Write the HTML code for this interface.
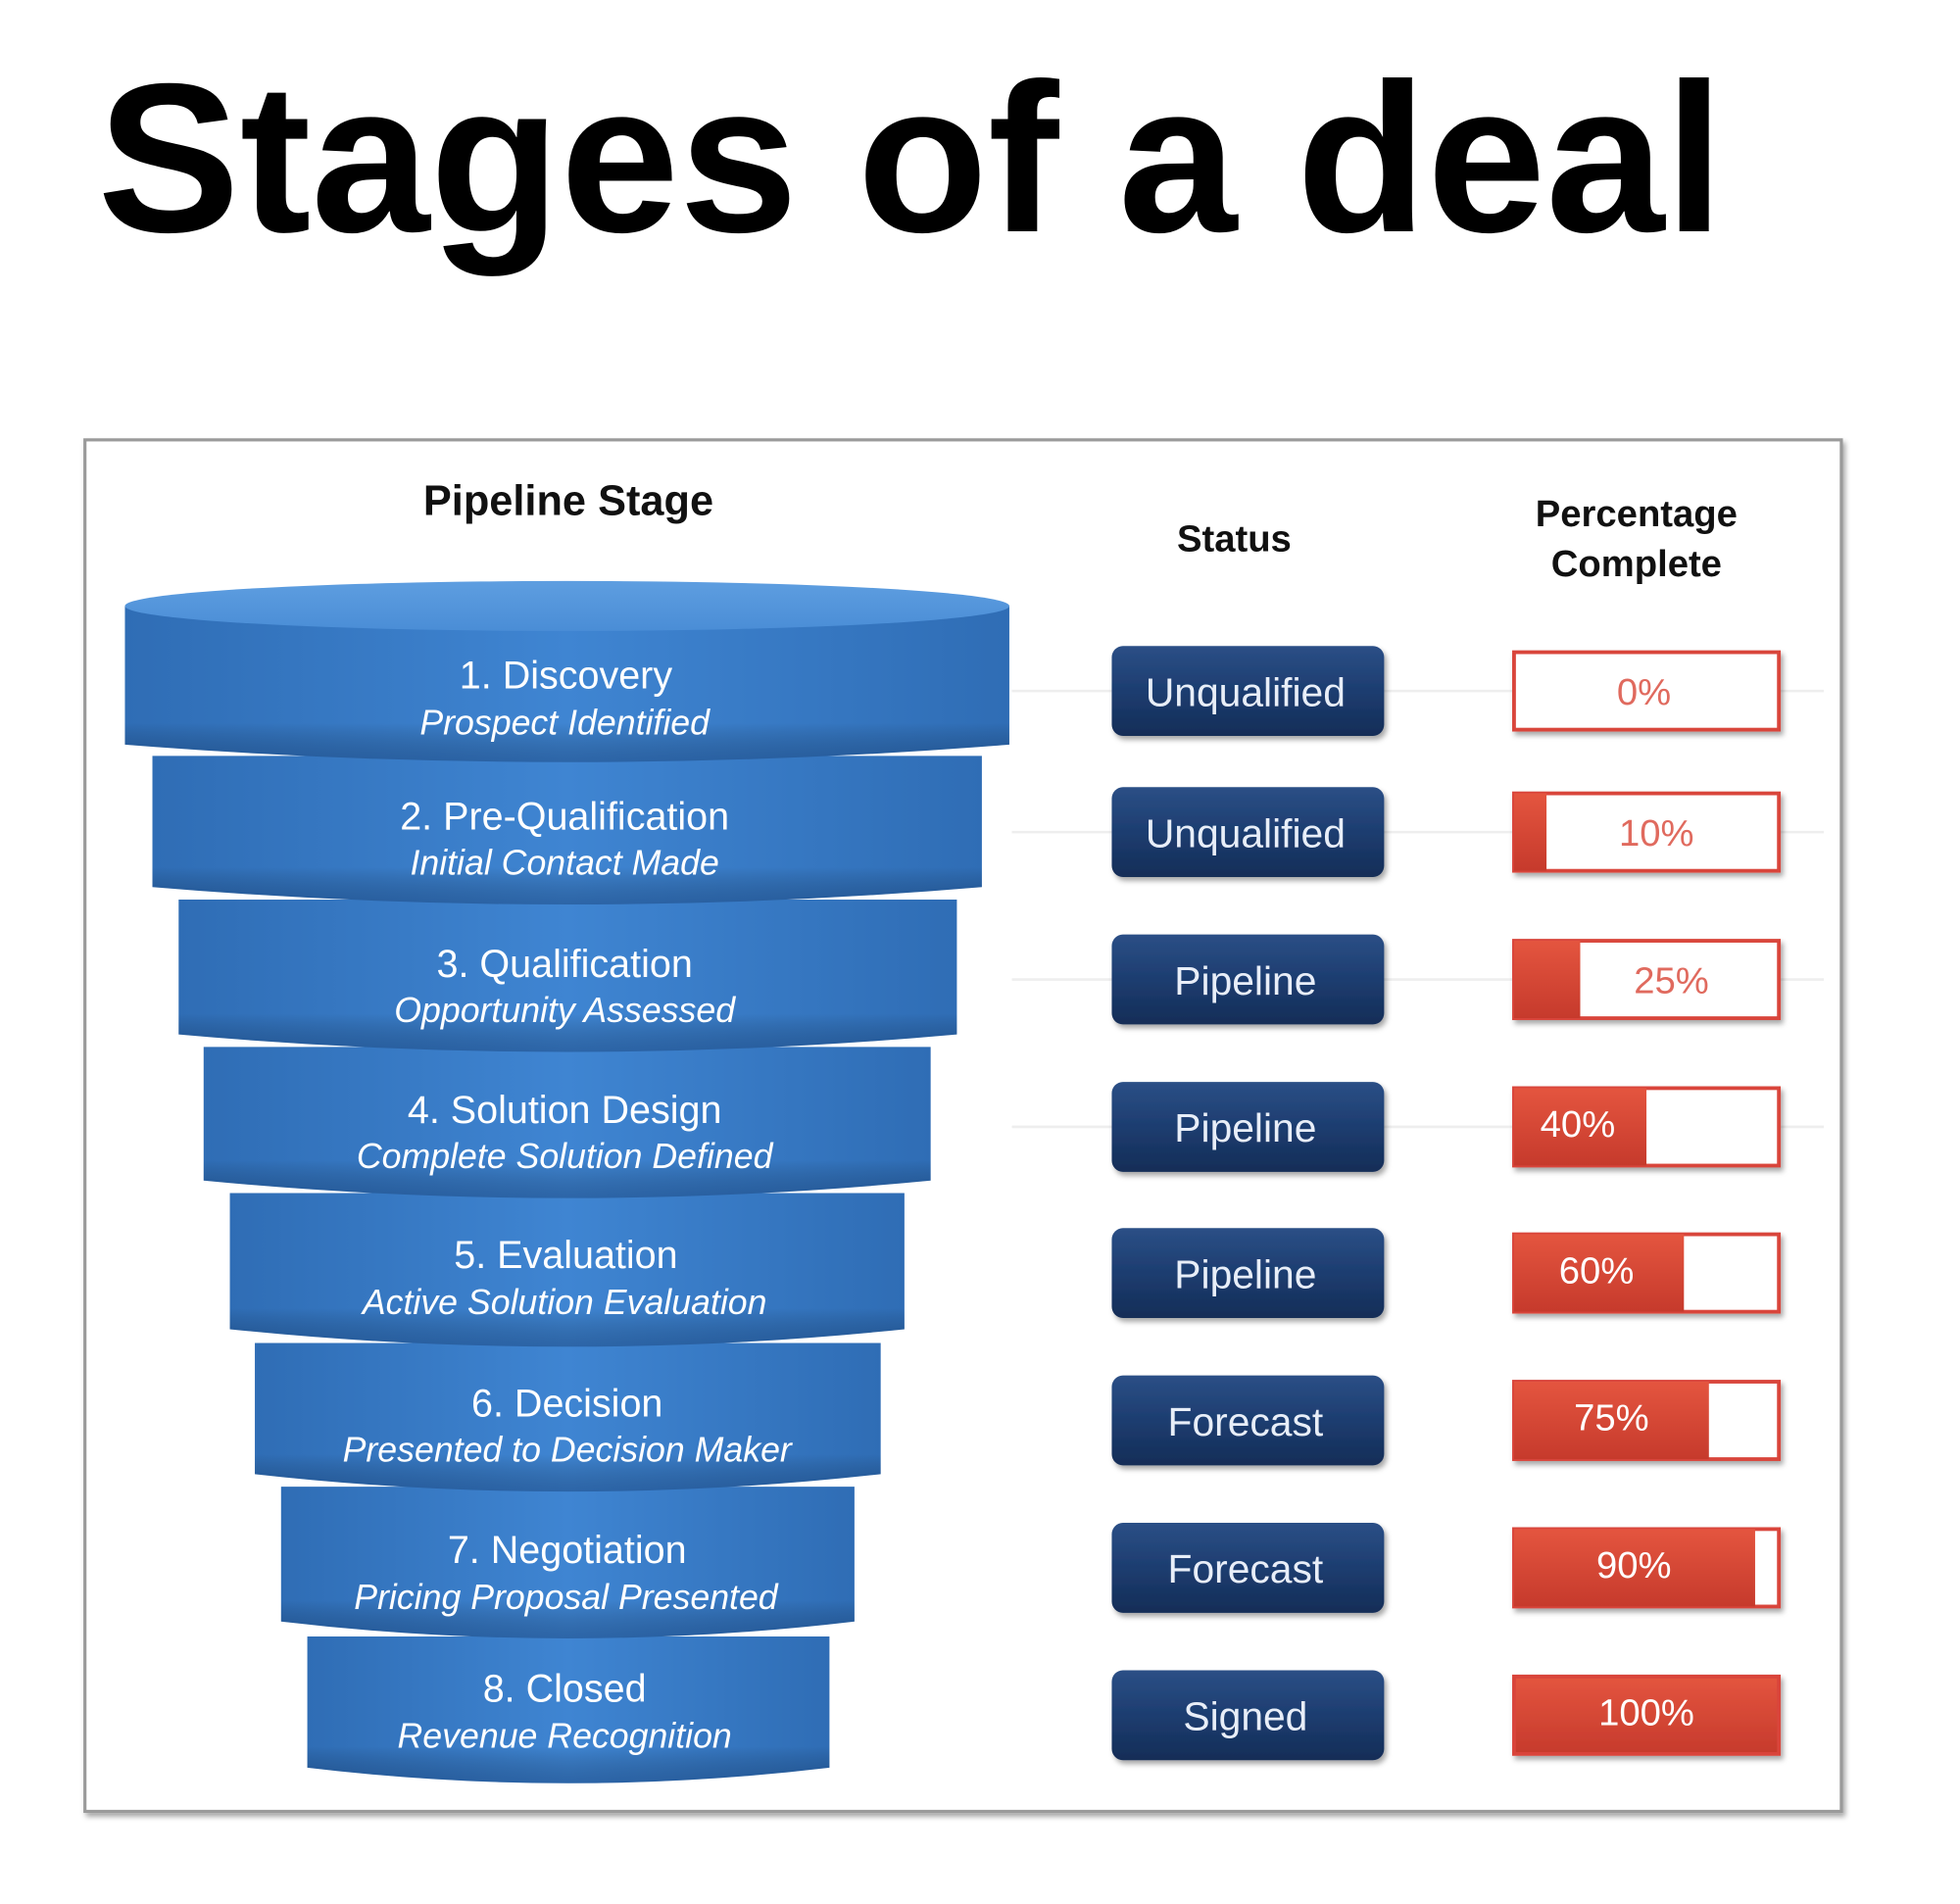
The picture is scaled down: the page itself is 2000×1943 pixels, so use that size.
<!DOCTYPE html>
<html><head><meta charset="utf-8"><style>
html,body{margin:0;padding:0;background:#fff;}
svg{display:block;}
</style></head><body>
<svg width="2000" height="1943" viewBox="0 0 1569 1524" xmlns="http://www.w3.org/2000/svg" font-family="Liberation Sans, sans-serif">
<defs>
<linearGradient id="tier" x1="0" x2="1" y1="0" y2="0">
<stop offset="0" stop-color="#2f6db5"/><stop offset="0.5" stop-color="#3f85d2"/><stop offset="1" stop-color="#2f6db5"/>
</linearGradient>
<linearGradient id="tierv" x1="0" x2="0" y1="0" y2="1">
<stop offset="0" stop-color="#000" stop-opacity="0"/><stop offset="0.75" stop-color="#000" stop-opacity="0"/><stop offset="1" stop-color="#0a2a5a" stop-opacity="0.35"/>
</linearGradient>
<linearGradient id="cap" x1="0" x2="0" y1="0" y2="1">
<stop offset="0" stop-color="#5e9ee0"/><stop offset="1" stop-color="#4a8dd6"/>
</linearGradient>
<linearGradient id="btn" x1="0" x2="0" y1="0" y2="1">
<stop offset="0" stop-color="#2b4f86"/><stop offset="0.5" stop-color="#1d3d70"/><stop offset="1" stop-color="#142d57"/>
</linearGradient>
<linearGradient id="red" x1="0" x2="0" y1="0" y2="1">
<stop offset="0" stop-color="#e4553f"/><stop offset="1" stop-color="#c63a2c"/>
</linearGradient>
<filter id="sh" x="-10%" y="-10%" width="130%" height="140%"><feDropShadow dx="2" dy="3" stdDeviation="2" flood-color="#000" flood-opacity="0.35"/></filter>
</defs>

<text x="78" y="185" font-size="170" font-weight="bold" fill="#000" textLength="1302" lengthAdjust="spacingAndGlyphs">Stages of a deal</text>

<rect x="68" y="352" width="1406" height="1098" fill="#fff" stroke="#9a9a9a" stroke-width="2.5" filter="url(#sh)"/>

<text x="455" y="412" font-size="34" font-weight="bold" text-anchor="middle" fill="#111">Pipeline Stage</text>
<text x="988" y="441" font-size="30" font-weight="bold" text-anchor="middle" fill="#111">Status</text>
<text x="1310" y="421" font-size="30" font-weight="bold" text-anchor="middle" fill="#111">Percentage</text>
<text x="1310" y="461" font-size="30" font-weight="bold" text-anchor="middle" fill="#111">Complete</text>

<g stroke="#eeeeee" stroke-width="2">
<line x1="810" y1="553" x2="1460" y2="553"/><line x1="810" y1="666" x2="1460" y2="666"/>
<line x1="810" y1="784" x2="1460" y2="784"/><line x1="810" y1="902" x2="1460" y2="902"/>
</g>

<g>
<path d="M246 1310 L246 1415 Q455 1440 664 1415 L664 1310 Z" fill="url(#tier)"/><path d="M246 1310 L246 1415 Q455 1440 664 1415 L664 1310 Z" fill="url(#tierv)"/>
<path d="M225 1190 L225 1298 Q455 1325 684 1298 L684 1190 Z" fill="url(#tier)"/><path d="M225 1190 L225 1298 Q455 1325 684 1298 L684 1190 Z" fill="url(#tierv)"/>
<path d="M204 1075 L204 1180 Q455 1208 705 1180 L705 1075 Z" fill="url(#tier)"/><path d="M204 1075 L204 1180 Q455 1208 705 1180 L705 1075 Z" fill="url(#tierv)"/>
<path d="M184 955 L184 1064 Q455 1092 724 1064 L724 955 Z" fill="url(#tier)"/><path d="M184 955 L184 1064 Q455 1092 724 1064 L724 955 Z" fill="url(#tierv)"/>
<path d="M163 838 L163 945 Q455 973 745 945 L745 838 Z" fill="url(#tier)"/><path d="M163 838 L163 945 Q455 973 745 945 L745 838 Z" fill="url(#tierv)"/>
<path d="M143 720 L143 828 Q455 856 766 828 L766 720 Z" fill="url(#tier)"/><path d="M143 720 L143 828 Q455 856 766 828 L766 720 Z" fill="url(#tierv)"/>
<path d="M122 605 L122 710 Q455 738 786 710 L786 605 Z" fill="url(#tier)"/><path d="M122 605 L122 710 Q455 738 786 710 L786 605 Z" fill="url(#tierv)"/>
<path d="M100 485 L100 596 Q455 624 808 596 L808 485 Z" fill="url(#tier)"/><path d="M100 485 L100 596 Q455 624 808 596 L808 485 Z" fill="url(#tierv)"/>
<ellipse cx="454" cy="485" rx="354" ry="20" fill="url(#cap)"/>
</g>

<g fill="#fff" text-anchor="middle">
<g font-size="31"><text x="453" y="551">1. Discovery</text><text x="452" y="664">2. Pre-Qualification</text><text x="452" y="782">3. Qualification</text><text x="452" y="899">4. Solution Design</text><text x="453" y="1015">5. Evaluation</text><text x="454" y="1134">6. Decision</text><text x="454" y="1251">7. Negotiation</text><text x="452" y="1362">8. Closed</text></g>
<g font-size="28" font-style="italic"><text x="452" y="588">Prospect Identified</text><text x="452" y="700">Initial Contact Made</text><text x="452" y="818">Opportunity Assessed</text><text x="452" y="935">Complete Solution Defined</text><text x="452" y="1052">Active Solution Evaluation</text><text x="454" y="1170">Presented to Decision Maker</text><text x="453" y="1288">Pricing Proposal Presented</text><text x="452" y="1399">Revenue Recognition</text></g>
</g>

<g filter="url(#sh)">
<rect x="890" y="517" width="218" height="72" rx="9" fill="url(#btn)"/>
<rect x="890" y="630" width="218" height="72" rx="9" fill="url(#btn)"/>
<rect x="890" y="748" width="218" height="72" rx="9" fill="url(#btn)"/>
<rect x="890" y="866" width="218" height="72" rx="9" fill="url(#btn)"/>
<rect x="890" y="983" width="218" height="72" rx="9" fill="url(#btn)"/>
<rect x="890" y="1101" width="218" height="72" rx="9" fill="url(#btn)"/>
<rect x="890" y="1219" width="218" height="72" rx="9" fill="url(#btn)"/>
<rect x="890" y="1337" width="218" height="72" rx="9" fill="url(#btn)"/>
</g>
<g fill="#e8eef8" font-size="32" text-anchor="middle">
<text x="997" y="565">Unqualified</text><text x="997" y="678">Unqualified</text><text x="997" y="796">Pipeline</text><text x="997" y="914">Pipeline</text><text x="997" y="1031">Pipeline</text><text x="997" y="1149">Forecast</text><text x="997" y="1267">Forecast</text><text x="997" y="1385">Signed</text>
</g>

<g filter="url(#sh)">
<rect x="1212" y="522" width="212" height="62" fill="#fff" stroke="#d9453a" stroke-width="3"/>
<rect x="1212" y="635" width="212" height="62" fill="#fff" stroke="#d9453a" stroke-width="3"/>
<rect x="1212" y="753" width="212" height="62" fill="#fff" stroke="#d9453a" stroke-width="3"/>
<rect x="1212" y="871" width="212" height="62" fill="#fff" stroke="#d9453a" stroke-width="3"/>
<rect x="1212" y="988" width="212" height="62" fill="#fff" stroke="#d9453a" stroke-width="3"/>
<rect x="1212" y="1106" width="212" height="62" fill="#fff" stroke="#d9453a" stroke-width="3"/>
<rect x="1212" y="1224" width="212" height="62" fill="#fff" stroke="#d9453a" stroke-width="3"/>
<rect x="1212" y="1342" width="212" height="62" fill="url(#red)" stroke="#d9453a" stroke-width="3"/>
</g>
<rect x="1212" y="635" width="26" height="62" fill="url(#red)"/>
<rect x="1212" y="753" width="53" height="62" fill="url(#red)"/>
<rect x="1212" y="871" width="106" height="62" fill="url(#red)"/>
<rect x="1212" y="988" width="136" height="62" fill="url(#red)"/>
<rect x="1212" y="1106" width="156" height="62" fill="url(#red)"/>
<rect x="1212" y="1224" width="193" height="62" fill="url(#red)"/>
<g font-size="30" text-anchor="middle">
<text x="1316" y="564" fill="#e06a5e">0%</text>
<text x="1326" y="677" fill="#e06a5e">10%</text>
<text x="1338" y="795" fill="#e06a5e">25%</text>
<text x="1263" y="910" fill="#fff">40%</text>
<text x="1278" y="1027" fill="#fff">60%</text>
<text x="1290" y="1145" fill="#fff">75%</text>
<text x="1308" y="1263" fill="#fff">90%</text>
<text x="1318" y="1381" fill="#fff">100%</text>
</g>
</svg>
</body></html>
